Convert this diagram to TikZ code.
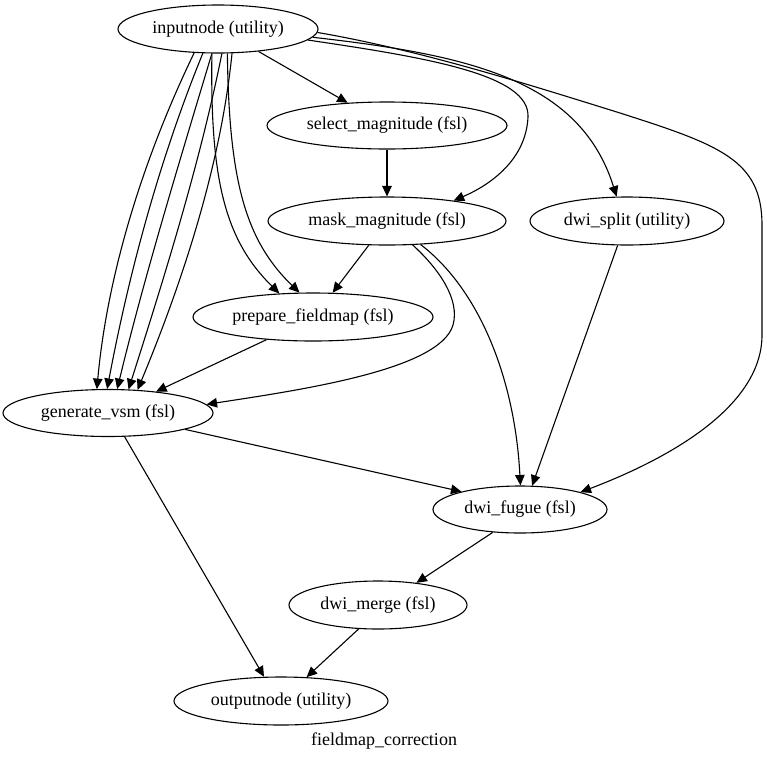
\documentclass[tikz,border=0pt]{standalone}
\usepackage{fontspec}
\setmainfont{Liberation Serif}
\usepackage{tikz}
\usetikzlibrary{shapes.geometric,arrows.meta}
\tikzset{
  fcnode/.style={ellipse, draw=black, line width=1.1pt, inner sep=0pt, font=\fontsize{18pt}{20pt}\selectfont},
  fcedge/.style={draw=black, line width=1.1pt, -{Triangle[length=10.5pt, width=9.5pt]}},
  fclabel/.style={font=\fontsize{18pt}{20pt}\selectfont},
}
\begin{document}
\begin{tikzpicture}[x=1pt,y=-1pt]
\useasboundingbox (0,0) rectangle (767,761);
\node[fcnode, minimum width=200pt, minimum height=48pt] (input) at (218,29) {inputnode (utility)};
\node[fcnode, minimum width=240pt, minimum height=47pt] (selmag) at (387,125.5) {select\_magnitude (fsl)};
\node[fcnode, minimum width=238pt, minimum height=48pt] (maskmag) at (387,221) {mask\_magnitude (fsl)};
\node[fcnode, minimum width=194pt, minimum height=48pt] (dwisplit) at (627,221) {dwi\_split (utility)};
\node[fcnode, minimum width=240pt, minimum height=48pt] (prepfm) at (313,317) {prepare\_fieldmap (fsl)};
\node[fcnode, minimum width=210pt, minimum height=47pt] (genvsm) at (108,413) {generate\_vsm (fsl)};
\node[fcnode, minimum width=174pt, minimum height=47pt] (fugue) at (520,509.5) {dwi\_fugue (fsl)};
\node[fcnode, minimum width=178pt, minimum height=48pt] (merge) at (378,605) {dwi\_merge (fsl)};
\node[fcnode, minimum width=214pt, minimum height=48pt] (output) at (281,701) {outputnode (utility)};
\node[fclabel] (caption) at (384,741) {fieldmap\_correction};
\draw[fcedge] (input.-29) -- (selmag.150);
\draw[fcedge] (selmag.south) -- (maskmag.north);
\draw[fcedge] (input.-7) .. controls (430,58) and (530,75) .. (528,117) .. controls (526,160) and (490,185) .. (maskmag.17);
\draw[fcedge] (input.-5) .. controls (470,55) and (580,80) .. (dwisplit.113);
\draw[fcedge] (input.-2) .. controls (420,50) and (530,85) .. (620,113) .. controls (720,145) and (762,160) .. (762,225) -- (762,335) .. controls (762,410) and (660,462) .. (fugue.16);
\draw[fcedge] (input.-135) .. controls (141,163) and (107,278) .. (genvsm.115);
\draw[fcedge] (input.-122) .. controls (158,163) and (128,278) .. (genvsm.92);
\draw[fcedge] (input.-104) .. controls (179,163) and (144,278) .. (genvsm.69);
\draw[fcedge] (input.-81) .. controls (200,163) and (164,278) .. (genvsm.49);
\draw[fcedge] (input.-60) .. controls (221,163) and (184,278) .. (genvsm.38);
\draw[fcedge] (input.-104) .. controls (210,180) and (225,240) .. (prepfm.145);
\draw[fcedge] (input.-69) .. controls (229,180) and (245,240) .. (prepfm.119);
\draw[fcedge] (maskmag.-127) -- (prepfm.51);
\draw[fcedge] (maskmag.-43) .. controls (440,270) and (460,300) .. (453,325) .. controls (440,370) and (300,390) .. (genvsm.5);
\draw[fcedge] (maskmag.-35) .. controls (480,290) and (515,380) .. (fugue.89);
\draw[fcedge] (dwisplit.-111) -- (fugue.63);
\draw[fcedge] (prepfm.-154) -- (genvsm.24);
\draw[fcedge] (genvsm.-12) -- (fugue.163);
\draw[fcedge] (genvsm.-55) -- (output.125);
\draw[fcedge] (fugue.-140) -- (merge.30);
\draw[fcedge] (merge.-129) -- (output.43);
\end{tikzpicture}
\end{document}
